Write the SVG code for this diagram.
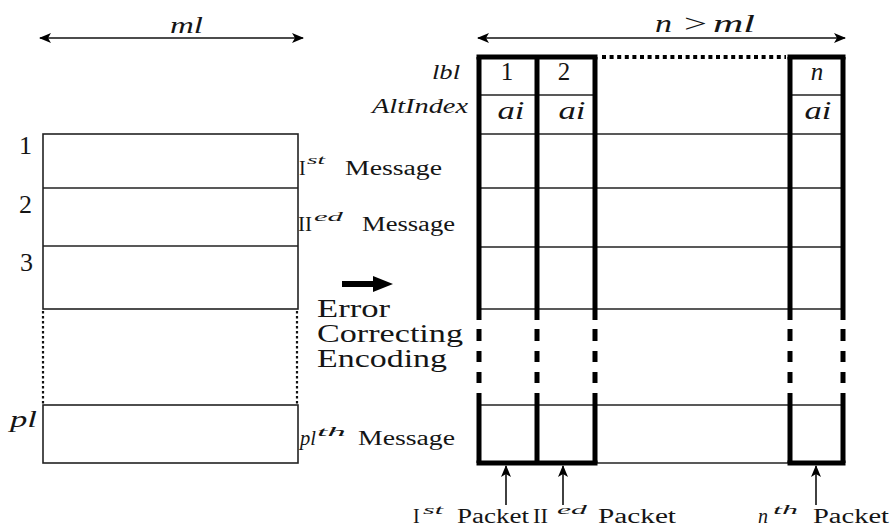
<svg xmlns="http://www.w3.org/2000/svg" width="892" height="529" viewBox="0 0 892 529" font-family="'Liberation Serif', 'DejaVu Serif', serif">
<style>
text{font-family:'Liberation Serif','DejaVu Serif',serif;fill:#151515}
.it{font-style:italic}
.thin{stroke:#222;stroke-width:1.6;fill:none}
.thick{stroke:#000;stroke-width:5;fill:none}
.conn{stroke:#111;stroke-width:1.6;fill:none}
</style>
<defs>
<marker id="ah" viewBox="0 0 12 10" refX="11" refY="5" markerWidth="12" markerHeight="10" markerUnits="userSpaceOnUse" orient="auto-start-reverse">
<path d="M0,0 L12,5 L0,10 L3,5 Z" fill="#000"/>
</marker>
</defs>
<rect width="892" height="529" fill="#fff"/>

<g id="connectors">
<line class="conn" x1="40" y1="38" x2="303" y2="38" marker-start="url(#ah)" marker-end="url(#ah)"/>
<line class="conn" x1="478" y1="38" x2="845" y2="38" marker-start="url(#ah)" marker-end="url(#ah)"/>
<line class="conn" x1="506" y1="505" x2="506" y2="466" marker-end="url(#ah)"/>
<line class="conn" x1="563" y1="505" x2="563" y2="466" marker-end="url(#ah)"/>
<line class="conn" x1="816" y1="505" x2="816" y2="466" marker-end="url(#ah)"/>
<polygon points="342,281 373,281 373,276 393,284 373,292 373,287 342,287" fill="#000"/>
</g>

<g id="dim-labels">
<text class="it" x="170" y="33" font-size="24" textLength="33" lengthAdjust="spacingAndGlyphs">ml</text>
<text class="it" x="655" y="32" font-size="25" textLength="17" lengthAdjust="spacingAndGlyphs">n</text>
<text x="684" y="32" font-size="25" textLength="23" lengthAdjust="spacingAndGlyphs">&gt;</text>
<text class="it" x="713" y="32" font-size="25" textLength="42" lengthAdjust="spacingAndGlyphs">ml</text>
</g>

<g id="message-block">
<rect class="thin" x="43" y="134" width="255" height="175"/>
<line class="thin" x1="43" y1="188" x2="298" y2="188"/>
<line class="thin" x1="43" y1="246" x2="298" y2="246"/>
<line x1="43" y1="311" x2="43" y2="405" stroke="#111" stroke-width="2.2" stroke-dasharray="2.5 2.5"/>
<line x1="297" y1="311" x2="297" y2="405" stroke="#111" stroke-width="2.2" stroke-dasharray="2.5 2.5"/>
<rect class="thin" x="43" y="405" width="255" height="58"/>
<text x="19" y="154" font-size="26">1</text>
<text x="19" y="213" font-size="26">2</text>
<text x="20" y="271" font-size="26">3</text>
<text class="it" x="10" y="427" font-size="23" textLength="27" lengthAdjust="spacingAndGlyphs">pl</text>
</g>

<g id="message-labels">
<text x="299" y="175" font-size="20">I</text>
<text class="it" x="307" y="164" font-size="13" textLength="18" lengthAdjust="spacingAndGlyphs">st</text>
<text x="345" y="175" font-size="20" textLength="97" lengthAdjust="spacingAndGlyphs">Message</text>
<text x="298" y="231" font-size="20" textLength="14" lengthAdjust="spacingAndGlyphs">II</text>
<text class="it" x="314" y="221" font-size="13" textLength="29" lengthAdjust="spacingAndGlyphs">ed</text>
<text x="362" y="231" font-size="20" textLength="93" lengthAdjust="spacingAndGlyphs">Message</text>
<text class="it" x="300" y="445" font-size="20" textLength="16" lengthAdjust="spacingAndGlyphs">pl</text>
<text class="it" x="317" y="436" font-size="13" textLength="29" lengthAdjust="spacingAndGlyphs">th</text>
<text x="358" y="445" font-size="20" textLength="97" lengthAdjust="spacingAndGlyphs">Message</text>
</g>

<g id="encoding-label">
<text x="317" y="317" font-size="25" textLength="73" lengthAdjust="spacingAndGlyphs">Error</text>
<text x="317" y="342" font-size="25" textLength="146" lengthAdjust="spacingAndGlyphs">Correcting</text>
<text x="317" y="367" font-size="25" textLength="130" lengthAdjust="spacingAndGlyphs">Encoding</text>
</g>

<g id="packet-grid">
<line class="thin" x1="479" y1="95" x2="595" y2="95"/>
<line class="thin" x1="790" y1="95" x2="843" y2="95"/>
<line class="thin" x1="479" y1="134" x2="843" y2="134"/>
<line class="thin" x1="479" y1="188" x2="843" y2="188"/>
<line class="thin" x1="479" y1="247" x2="843" y2="247"/>
<line class="thin" x1="479" y1="309" x2="843" y2="309"/>
<line class="thin" x1="479" y1="405" x2="843" y2="405"/>
<line class="thin" x1="595" y1="463" x2="790" y2="463"/>
<path class="thick" d="M476.5,57 H597.5 M787.5,57 H845.5 M476.5,463 H597.5 M787.5,463 H845.5"/>
<line x1="602" y1="57" x2="786" y2="57" stroke="#000" stroke-width="4" stroke-dasharray="4 3.6"/>
<path id="vlines" class="thick" d="M479,57 V320 M479,329 V341 M479,351 V362 M479,372 V383 M479,393 V463
M537,57 V320 M537,329 V341 M537,351 V362 M537,372 V383 M537,393 V463
M595,57 V320 M595,329 V341 M595,351 V362 M595,372 V383 M595,393 V463
M790,57 V320 M790,329 V341 M790,351 V362 M790,372 V383 M790,393 V463
M843,57 V320 M843,329 V341 M843,351 V362 M843,372 V383 M843,393 V463"/>
</g>

<g id="grid-labels">
<text class="it" x="460" y="79" font-size="21" text-anchor="end" textLength="28" lengthAdjust="spacingAndGlyphs">lbl</text>
<text class="it" x="468" y="113" font-size="20" text-anchor="end" textLength="96" lengthAdjust="spacingAndGlyphs">AltIndex</text>
<text x="507" y="80" font-size="25" text-anchor="middle">1</text>
<text x="564" y="80" font-size="25" text-anchor="middle">2</text>
<text class="it" x="817" y="80" font-size="25" text-anchor="middle">n</text>
<text class="it" x="511" y="119" font-size="25" text-anchor="middle" textLength="27" lengthAdjust="spacingAndGlyphs">ai</text>
<text class="it" x="572" y="119" font-size="25" text-anchor="middle" textLength="27" lengthAdjust="spacingAndGlyphs">ai</text>
<text class="it" x="818" y="119" font-size="25" text-anchor="middle" textLength="27" lengthAdjust="spacingAndGlyphs">ai</text>
</g>

<g id="packet-labels">
<text x="413" y="523" font-size="20">I</text>
<text class="it" x="423" y="514" font-size="13" textLength="20" lengthAdjust="spacingAndGlyphs">st</text>
<text x="457" y="523" font-size="20" textLength="72" lengthAdjust="spacingAndGlyphs">Packet</text>
<text x="533" y="523" font-size="20" textLength="15" lengthAdjust="spacingAndGlyphs">II</text>
<text class="it" x="557" y="514" font-size="13" textLength="30" lengthAdjust="spacingAndGlyphs">ed</text>
<text x="598" y="523" font-size="20" textLength="78" lengthAdjust="spacingAndGlyphs">Packet</text>
<text class="it" x="758" y="523" font-size="20">n</text>
<text class="it" x="773" y="514" font-size="13" textLength="25" lengthAdjust="spacingAndGlyphs">th</text>
<text x="813" y="523" font-size="20" textLength="76" lengthAdjust="spacingAndGlyphs">Packet</text>
</g>
</svg>
